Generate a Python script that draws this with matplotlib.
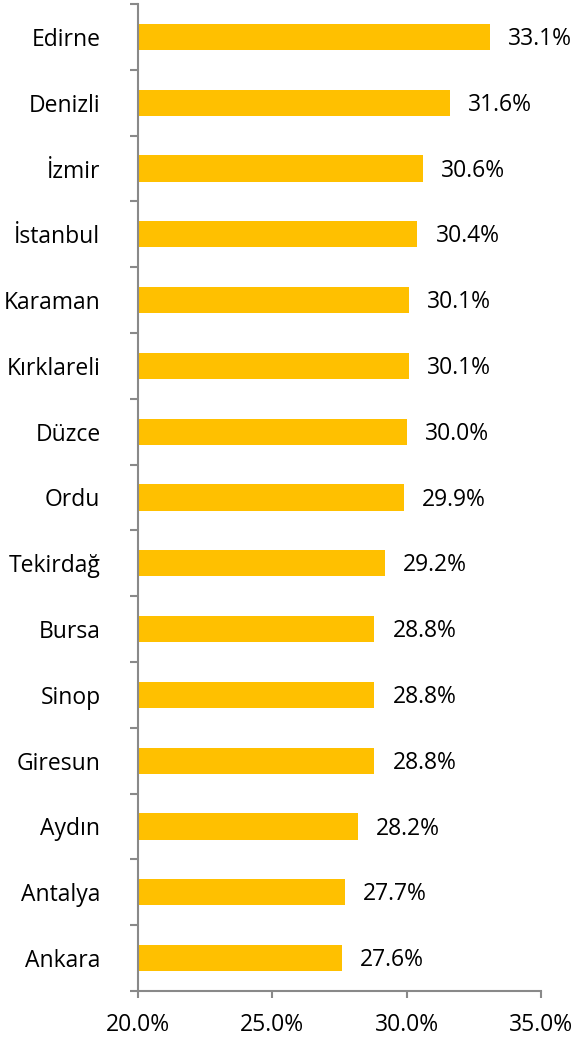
import matplotlib
matplotlib.use('Agg')
import matplotlib.pyplot as plt
from matplotlib.ticker import FixedLocator, FuncFormatter

# DATA
cities = ['Edirne', 'Denizli', 'İzmir', 'İstanbul', 'Karaman', 'Kırklareli', 'Düzce', 'Ordu',
          'Tekirdağ', 'Bursa', 'Sinop', 'Giresun', 'Aydın', 'Antalya', 'Ankara']
values = [33.1, 31.6, 30.6, 30.4, 30.1, 30.1, 30.0, 29.9, 29.2, 28.8, 28.8, 28.8, 28.2, 27.7, 27.6]
x_ticks = [20, 25, 30, 35]

# VISUALS
plt.rcParams['font.family'] = ['Open Sans', 'DejaVu Sans']
fontsize = 16.5
bar_color = '#FFC000'
axis_color = '#898989'

W, H = 577, 1041
fig = plt.figure(figsize=(W / 100, H / 100), dpi=100)
ax = fig.add_axes([138 / W, (H - 991) / H, (541 - 138) / W, (991 - 4) / H])

pos = list(range(len(cities)))
ax.barh(pos, [v - 20 for v in values], left=20, height=0.4, color=bar_color)

for p, v in zip(pos, values):
    ax.annotate(f'{v:.1f}%', (v, p), xytext=(13, -1.5), textcoords='offset points',
                va='center', ha='left', fontsize=fontsize, color='black')

ax.set_xlim(20, 35)
ax.set_ylim(len(cities) - 0.5, -0.5)

ax.set_xticks(x_ticks)
ax.xaxis.set_major_formatter(FuncFormatter(lambda x, _: f'{x:.1f}%'))
ax.tick_params(axis='x', direction='out', length=5, width=1.5, color=axis_color,
               labelsize=fontsize, pad=11)

# category labels on hidden major ticks, tick marks between categories
ax.set_yticks(pos)
ax.set_yticklabels(cities, fontsize=fontsize)
ax.tick_params(axis='y', which='major', length=0, pad=27)
ax.yaxis.set_minor_locator(FixedLocator([p - 0.5 for p in pos] + [len(cities) - 0.5]))
ax.tick_params(axis='y', which='minor', direction='out', length=6, width=1.5, color=axis_color)

for side in ['top', 'right']:
    ax.spines[side].set_visible(False)
for side in ['left', 'bottom']:
    ax.spines[side].set_color(axis_color)
    ax.spines[side].set_linewidth(1.5)

fig.savefig('out.png', dpi=100)
